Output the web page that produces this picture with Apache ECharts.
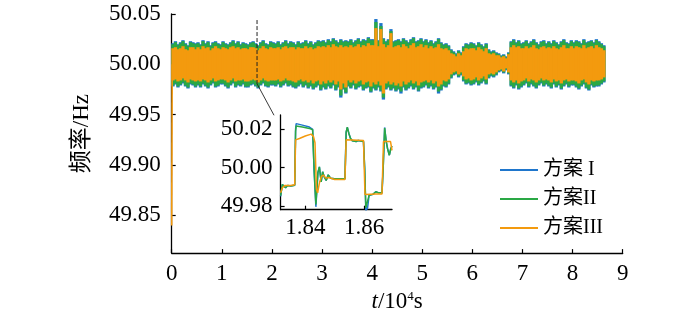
<!DOCTYPE html>
<html>
<head>
<meta charset="utf-8">
<script src="https://cdn.jsdelivr.net/npm/echarts@6/dist/echarts.min.js"></script>
<style>
html,body{margin:0;padding:0;background:#fff;}
#main{width:700px;height:318px;}
</style>
</head>
<body>
<div id="main"></div>
<script>
// 图例名称
var names = ['方案 I', '方案II', '方案III'];
var colors = ['#1f76cc', '#2aa845', '#f39a0e'];

// 主图: 每 0.05×10^4 s 一个区间, 频率包络 (mHz, 相对 50 Hz)
var binW = 0.05;
var gHi = [20,22,19,21,23,20,18,22,21,20, 21,19,23,20,22,18,21,22,20,19, 22,20,19,21,23,20,22,19,21,20,
  19,21,22,20,18,21,23,20,19,22, 21,20,22,19,21,23,20,22,21,19, 22,20,21,23,20,22,19,21,23,22,
  23,21,24,22,25,23,21,24,22,23, 22,24,21,23,25,22,24,23,26,24, 24,42,23,38,25,22,24,33,22,23,
  24,22,25,23,21,24,26,22,23,25, 22,24,21,23,20,22,25,21,19,20, 18,14,12,10,13,11,17,20,19,21,
  20,18,21,19,17,20,14,12,13,11, 10,8,9,7,11,22,24,21,23,20, 21,23,20,22,24,21,19,22,23,20,
  22,20,23,21,19,22,24,21,20,23, 21,23,22,20,24,21,22,23,21,24, 22,20,18];
var gLo = [-21,-19,-22,-20,-18,-21,-23,-19,-20,-22, -20,-22,-19,-21,-23,-20,-18,-22,-21,-19, -19,-21,-23,-20,-18,-22,-20,-21,-19,-22,
  -22,-20,-19,-21,-23,-20,-18,-21,-22,-20, -20,-21,-19,-22,-20,-18,-21,-20,-22,-23, -21,-19,-22,-20,-23,-21,-24,-22,-20,-25,
  -22,-24,-21,-23,-20,-25,-22,-31,-24,-28, -21,-23,-20,-24,-22,-21,-25,-23,-22,-27, -23,-25,-22,-26,-33,-24,-22,-25,-23,-26,
  -24,-27,-22,-25,-23,-21,-24,-22,-26,-23, -22,-20,-23,-21,-24,-22,-27,-25,-21,-22, -19,-13,-10,-9,-12,-10,-16,-19,-18,-20,
  -19,-17,-20,-18,-16,-19,-13,-11,-12,-10, -7,-6,-8,-5,-9,-21,-23,-20,-24,-22, -20,-18,-22,-19,-21,-23,-20,-18,-21,-19,
  -21,-23,-19,-22,-20,-24,-21,-19,-22,-20, -20,-22,-24,-21,-19,-23,-25,-20,-22,-21, -21,-19,-17];
var bHi = [21,23,20,22,24,21,19,23,22,21, 22,20,24,21,23,19,22,23,21,20, 23,21,20,22,24,21,23,20,22,21,
  20,22,23,21,19,22,24,21,20,23, 22,21,23,20,22,24,21,23,22,20, 23,21,22,24,21,23,20,22,24,23,
  24,22,25,23,26,24,22,25,23,24, 23,25,22,24,26,23,25,24,27,25, 25,45,24,41,26,23,25,35,23,24,
  25,23,26,24,22,25,27,23,24,26, 23,25,22,24,21,23,26,22,20,21, 19,15,13,11,14,12,18,21,20,22,
  21,19,22,20,18,21,15,13,14,12, 11,9,10,8,12,23,25,22,24,21, 22,24,21,23,25,22,20,23,24,21,
  23,21,24,22,20,23,25,22,21,24, 22,24,23,21,25,22,23,24,22,25, 23,21,19];
var bLo = [-22,-20,-23,-21,-19,-22,-24,-20,-21,-23, -21,-23,-20,-22,-24,-21,-19,-23,-22,-20, -20,-22,-24,-21,-19,-23,-21,-22,-20,-23,
  -23,-21,-20,-22,-24,-21,-19,-22,-23,-21, -21,-22,-20,-23,-21,-19,-22,-21,-23,-24, -22,-20,-23,-21,-24,-22,-25,-23,-21,-26,
  -23,-25,-22,-24,-21,-26,-23,-33,-25,-29, -22,-24,-21,-25,-23,-22,-26,-24,-23,-28, -24,-26,-23,-27,-35,-25,-23,-26,-24,-27,
  -25,-29,-23,-26,-24,-22,-25,-23,-27,-24, -23,-21,-24,-22,-25,-23,-29,-26,-22,-23, -20,-14,-11,-10,-13,-11,-17,-20,-19,-21,
  -20,-18,-21,-19,-17,-20,-14,-12,-13,-11, -8,-7,-9,-6,-10,-22,-24,-21,-25,-23, -21,-19,-23,-20,-22,-24,-21,-19,-22,-20,
  -22,-24,-20,-23,-21,-25,-22,-20,-23,-21, -21,-23,-25,-22,-20,-24,-26,-21,-23,-22, -22,-20,-18];
var oHi = [16,17,15,16,18,15,14,17,17,15, 17,15,18,16,17,14,16,18,16,15, 17,16,15,17,18,16,17,15,16,16,
  15,17,17,16,14,16,18,16,15,17, 16,16,17,15,17,18,16,17,17,15, 17,16,16,18,16,17,15,16,18,17,
  18,17,19,17,20,18,17,19,17,18, 17,19,17,18,20,17,19,18,21,19, 19,36,18,35,20,17,19,31,17,18,
  19,17,20,18,16,19,21,17,18,20, 17,19,16,18,16,17,20,16,15,16, 14,11,10,8,11,9,13,16,15,16,
  16,14,17,15,13,16,11,10,11,9, 9,7,8,6,10,17,19,17,18,16, 16,18,16,17,19,16,15,17,18,16,
  17,16,18,16,15,17,19,16,16,18, 16,18,17,16,19,16,17,18,16,19, 17,16,14];
var oLo = [-16,-15,-17,-16,-14,-16,-18,-15,-16,-17, -16,-17,-15,-16,-18,-16,-14,-17,-16,-15, -15,-16,-18,-16,-14,-17,-16,-16,-15,-17,
  -17,-16,-15,-16,-18,-16,-14,-16,-17,-16, -16,-16,-15,-17,-16,-14,-16,-16,-17,-18, -16,-15,-17,-16,-18,-16,-19,-17,-16,-20,
  -17,-19,-16,-18,-16,-20,-17,-25,-19,-23, -16,-18,-16,-19,-17,-16,-20,-18,-17,-22, -18,-20,-17,-21,-29,-19,-17,-20,-18,-21,
  -19,-22,-17,-20,-18,-16,-19,-17,-21,-18, -17,-16,-18,-16,-19,-17,-22,-20,-16,-17, -15,-10,-8,-7,-10,-8,-12,-15,-14,-16,
  -15,-13,-16,-14,-12,-15,-10,-9,-10,-8, -6,-5,-7,-4,-8,-16,-18,-16,-19,-17, -16,-14,-17,-15,-16,-18,-16,-14,-16,-15,
  -16,-18,-15,-17,-16,-19,-16,-15,-17,-16, -16,-17,-19,-16,-15,-18,-20,-16,-17,-16, -16,-15,-13];

// 起始时刻频率
var startT = [0, 0.01];
var startF = [49.84, 50.0];

// 局部放大 (1.83~1.87 ×10^4 s)
var inT = [1.8316,1.8322,1.8326,1.8333,1.8340,1.8350,1.8364,1.8367,1.8369,1.8390,1.8414,1.8425,1.8430,1.8436,1.8443,1.8448,1.8454,1.8459,1.8465,1.8471,1.8478,1.8486,1.8500,1.8535,1.8539,1.8543,1.8548,1.8554,1.8560,1.8566,1.8573,1.8580,1.8598,1.8602,1.8606,1.8612,1.8617,1.8622,1.8630,1.8640,1.8650,1.8661,1.8665,1.8670,1.8675,1.8680,1.8686,1.8691,1.8695];
var inG = [49.9853,49.9912,49.9905,49.9895,49.9906,49.9904,49.9908,50.0190,50.0218,50.0212,50.0205,50.0198,49.9990,49.9808,49.9975,50.0004,49.9925,49.9978,49.9950,49.9933,49.9962,49.9945,49.9942,49.9942,50.0185,50.0212,50.0180,50.0152,50.0140,50.0147,50.0136,50.0142,50.0136,50.0000,49.9790,49.9800,49.9855,49.9865,49.9860,49.9874,49.9868,49.9868,50.0000,50.0207,50.0140,50.0098,50.0065,50.0100,50.0112];
var inB = [49.9850,49.9912,49.9905,49.9895,49.9906,49.9904,49.9908,50.0200,50.0230,50.0222,50.0212,50.0200,49.9985,49.9795,49.9975,50.0004,49.9925,49.9978,49.9950,49.9933,49.9962,49.9945,49.9942,49.9942,50.0185,50.0210,50.0180,50.0152,50.0140,50.0147,50.0136,50.0142,50.0136,49.9995,49.9775,49.9790,49.9855,49.9865,49.9860,49.9874,49.9868,49.9868,50.0000,50.0210,50.0140,50.0098,50.0065,50.0100,50.0112];
var inTO = [1.8316,1.8322,1.8330,1.8350,1.8364,1.8367,1.8380,1.8400,1.8420,1.8428,1.8433,1.8438,1.8442,1.8448,1.8455,1.8462,1.8470,1.8480,1.8500,1.8535,1.8539,1.8560,1.8598,1.8603,1.8640,1.8661,1.8666,1.8690,1.8695];
var inO = [49.9868,49.9895,49.9906,49.9906,49.9910,50.0145,50.0152,50.0165,50.0175,50.0162,50.0130,49.9885,49.9868,49.9920,49.9955,49.9960,49.9945,49.9948,49.9938,49.9938,50.0145,50.0144,50.0142,49.9860,49.9862,49.9862,50.0136,50.0136,50.0090];

// 刻度
var mainYTicks = [49.85, 49.90, 49.95, 50.00, 50.05];
var inYTicks = [49.98, 50.00, 50.02];
var inXTicks = [1.84, 1.86];

// 虚线标记和引线
var markT = [1.703, 1.703];
var markF = [50.044, 49.9807];
var leadT = [1.703, 2.042];
var leadF = [49.9807, 49.9494];

var FONT = "'Liberation Serif', 'Noto Sans CJK SC', serif";
var FS = 23;

function band(lo, hi) {
  return lo.map(function (v, k) { return [k * binW, 50 + v / 1000, 50 + hi[k] / 1000]; });
}
function pairs(xs, ys) {
  return xs.map(function (x, i) { return [x, ys[i]]; });
}
// 每个区间画一个竖条, 稍微加宽一点避免缝隙
function renderBand(params, api) {
  var t = api.value(0);
  var p0 = api.coord([t, api.value(2)]);
  var p1 = api.coord([t + binW, api.value(1)]);
  return {
    type: 'rect',
    shape: { x: p0[0] - 0.4, y: p0[1], width: p1[0] - p0[0] + 0.8, height: p1[1] - p0[1] },
    style: { fill: api.visual('color') }
  };
}

var axisCommon = {
  axisLine: { lineStyle: { color: '#000', width: 1.3 } },
  axisTick: { inside: true, length: 4, lineStyle: { color: '#000', width: 1.2 } },
  splitLine: { show: false },
};

var myChart = echarts.init(document.getElementById('main'));
var option = {
  animation: false,
  backgroundColor: '#fff',
  grid: [
    { left: 171.7, right: 77.3, top: 14, bottom: 61.3 },
    { left: 280.6, right: 308, top: 115, bottom: 108.3 }
  ],
  legend: {
    data: names,
    orient: 'vertical',
    left: 495,
    top: 154,
    icon: 'rect',
    itemWidth: 38,
    itemHeight: 2,
    itemGap: 7,
    textStyle: { fontFamily: FONT, fontSize: 20, color: '#000', lineHeight: 22 }
  },
  xAxis: [
    Object.assign({}, axisCommon, {
      type: 'value', gridIndex: 0, min: 0, max: 9, interval: 1,
      axisLabel: { fontFamily: FONT, fontSize: FS, color: '#000', margin: 9 },
      name: '{it|t}/10{sup|4}s',
      nameLocation: 'middle',
      nameGap: 31,
      nameTextStyle: {
        fontFamily: FONT, fontSize: FS, color: '#000',
        rich: {
          it: { fontFamily: FONT, fontSize: FS, fontStyle: 'italic', color: '#000' },
          sup: { fontFamily: FONT, fontSize: 13, color: '#000', verticalAlign: 'top' }
        }
      }
    }),
    Object.assign({}, axisCommon, {
      type: 'value', gridIndex: 1, min: 1.8316, max: 1.8695,
      axisTick: { inside: true, length: 4, lineStyle: { color: '#000', width: 1.2 }, customValues: inXTicks },
      axisLabel: { fontFamily: FONT, fontSize: FS, color: '#000', margin: 7, customValues: inXTicks,
        formatter: function (v) { return v.toFixed(2); } }
    })
  ],
  yAxis: [
    Object.assign({}, axisCommon, {
      type: 'value', gridIndex: 0, min: 49.8125, max: 50.05,
      axisTick: { inside: true, length: 4, lineStyle: { color: '#000', width: 1.2 }, customValues: mainYTicks },
      axisLabel: { fontFamily: FONT, fontSize: FS, color: '#000', margin: 11, customValues: mainYTicks,
        formatter: function (v) { return v.toFixed(2); } },
      name: '频率/Hz',
      nameLocation: 'middle',
      nameGap: 78,
      nameTextStyle: { fontFamily: FONT, fontSize: FS, color: '#000' }
    }),
    Object.assign({}, axisCommon, {
      type: 'value', gridIndex: 1, min: 49.978, max: 50.0275,
      axisTick: { inside: true, length: 4, lineStyle: { color: '#000', width: 1.2 }, customValues: inYTicks },
      axisLabel: { fontFamily: FONT, fontSize: FS, color: '#000', margin: 8, customValues: inYTicks,
        formatter: function (v) { return v.toFixed(2); } }
    })
  ],
  series: [
    { name: names[0], type: 'custom', xAxisIndex: 0, yAxisIndex: 0, renderItem: renderBand,
      itemStyle: { color: colors[0] }, encode: { x: 0, y: [1, 2] }, data: band(bLo, bHi) },
    { name: names[1], type: 'custom', xAxisIndex: 0, yAxisIndex: 0, renderItem: renderBand,
      itemStyle: { color: colors[1] }, encode: { x: 0, y: [1, 2] }, data: band(gLo, gHi) },
    { name: names[2], type: 'custom', xAxisIndex: 0, yAxisIndex: 0, renderItem: renderBand,
      itemStyle: { color: colors[2] }, encode: { x: 0, y: [1, 2] }, data: band(oLo, oHi) },
    { type: 'line', xAxisIndex: 0, yAxisIndex: 0, showSymbol: false, clip: false, z: 3,
      lineStyle: { color: colors[2], width: 1.6 }, data: pairs(startT, startF) },
    { type: 'line', xAxisIndex: 0, yAxisIndex: 0, showSymbol: false, z: 4,
      lineStyle: { color: '#222', width: 1, type: [4, 2] }, data: pairs(markT, markF) },
    { type: 'line', xAxisIndex: 0, yAxisIndex: 0, showSymbol: false, z: 4, clip: false,
      lineStyle: { color: '#222', width: 0.9 }, data: pairs(leadT, leadF) },
    { name: names[0], type: 'line', xAxisIndex: 1, yAxisIndex: 1, showSymbol: false,
      itemStyle: { color: colors[0] }, lineStyle: { width: 1.5 }, data: pairs(inT, inB) },
    { name: names[1], type: 'line', xAxisIndex: 1, yAxisIndex: 1, showSymbol: false,
      itemStyle: { color: colors[1] }, lineStyle: { width: 1.5 }, data: pairs(inT, inG) },
    { name: names[2], type: 'line', xAxisIndex: 1, yAxisIndex: 1, showSymbol: false,
      itemStyle: { color: colors[2] }, lineStyle: { width: 1.5 }, data: pairs(inTO, inO) }
  ]
};
myChart.setOption(option);
</script>
</body>
</html>
